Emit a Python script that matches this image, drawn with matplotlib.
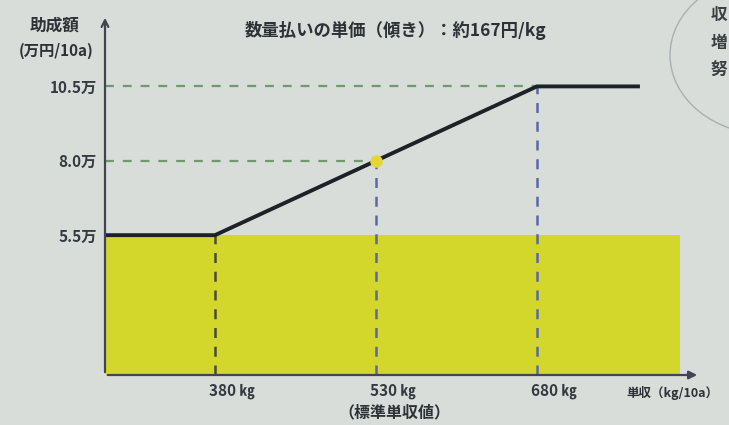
import numpy as np
from matplotlib import pyplot as plt
from matplotlib.patches import Ellipse
from matplotlib.transforms import ScaledTranslation

plt.rcParams['font.family'] = ['Noto Sans CJK JP', 'DejaVu Sans']

# data
line_x = [278, 380, 680, 776]          # kg/10a
line_y = [5.5, 5.5, 10.5, 10.5]        # 万円/10a
area_x = [278, 813]
area_top = 5.5
point_x = 530
point_y = 8.0
yticks = [5.5, 8.0, 10.5]
ytick_labels = ["5.5万", "8.0万", "10.5万"]
xticks = [380, 530, 680]
xtick_labels = ["380 ㎏", "530 ㎏", "680 ㎏"]
title = "数量払いの単価（傾き）：約167円/kg"

W, H = 729, 425
bg = "#d8ddda"
txt = "#2c3236"
fig = plt.figure(figsize=(W / 100, H / 100), dpi=100)
fig.patch.set_facecolor(bg)

# axes origin at px (105, 375), arrow tips at x=700 / y=15
ax = fig.add_axes([105 / W, (H - 375) / H, 595 / W, 360 / H])
ax.set_facecolor(bg)
ax.set_xlim(277.5, 832)
ax.set_ylim(0.8, 12.9)

ax.fill_between(area_x, area_top, 0, color="#d3d72c", lw=0, zorder=1)

# guide lines
for yv in [8.0, 10.5]:
    xe = np.interp(yv, line_y[1:3], line_x[1:3])
    ax.plot([ax.get_xlim()[0], xe], [yv, yv], ls=(0, (4, 4)), color="#6f9a6c", lw=1.6, zorder=2)
for xv, c in zip(xticks, ["#4a4a3a", "#5a68a6", "#5a68a6"]):
    yv = np.interp(xv, line_x, line_y)
    ax.plot([xv, xv], [ax.get_ylim()[0], yv], ls=(0, (4, 3.5)), color=c, lw=1.8, zorder=2)

ax.plot(line_x, line_y, color="#1d2226", lw=2.8, solid_capstyle="butt", zorder=3)
ax.plot(point_x, point_y, "o", ms=9, color="#e3d636", mec="none", zorder=4)

for s in ["top", "right", "left", "bottom"]:
    ax.spines[s].set_visible(False)
ax.annotate("", xy=(1, 0), xytext=(0, 0), xycoords="axes fraction",
            arrowprops=dict(arrowstyle="-|>", color="#3f4650", lw=1.6, mutation_scale=12))
ax.annotate("", xy=(0, 1), xytext=(0, 0), xycoords="axes fraction",
            arrowprops=dict(arrowstyle="->", color="#3f4650", lw=1.6, mutation_scale=12))

ax.set_yticks(yticks)
ax.set_yticklabels(ytick_labels, fontsize=11, fontweight="bold", color="#333a40")
ax.set_xticks(xticks)
ax.set_xticklabels(xtick_labels, fontsize=11, fontweight="bold", color="#333a40")
ax.tick_params(axis="y", length=0, pad=6)
ax.tick_params(axis="x", length=0, pad=6)
for lab in ax.get_xticklabels():
    lab.set_transform(lab.get_transform() + ScaledTranslation(0.17, 0, fig.dpi_scale_trans))

fig.text(395 / W, 1 - 31 / H, title, ha="center", va="center", fontsize=12.5,
         fontweight="bold", color=txt)
fig.text(55 / W, 1 - 26 / H, "助成額", ha="center", va="center", fontsize=12,
         fontweight="bold", color=txt)
fig.text(56 / W, 1 - 51 / H, "(万円/10a)", ha="center", va="center", fontsize=11,
         fontweight="bold", color=txt)
fig.text(394 / W, 1 - 412 / H, "（標準単収値）", ha="center", va="center", fontsize=11.5,
         fontweight="bold", color=txt)
fig.text(626 / W, 1 - 393 / H, "単収（kg/10a）", ha="left", va="center", fontsize=9,
         fontweight="bold", color=txt)

# cut-off box on the right edge of the page
fig.patches.append(Ellipse((770 / W, 1 - 55 / H), 200 / W, 160 / H, transform=fig.transFigure,
                           fill=False, ec="#a9b0b2", lw=1))
for i, ch in enumerate(["収", "増", "努"]):
    fig.text(711 / W, 1 - (15 + 28 * i) / H, ch, ha="left", va="center", fontsize=12,
             fontweight="bold", color="#3a3f44")

fig.savefig("out.png", dpi=100, facecolor=bg)
